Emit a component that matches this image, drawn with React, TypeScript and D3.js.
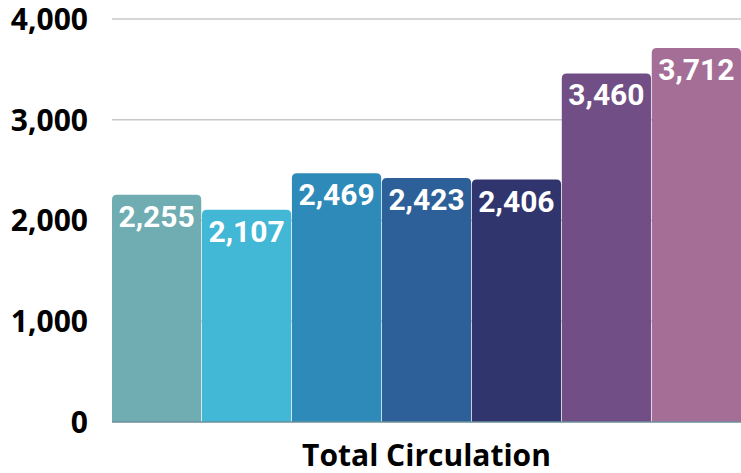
import React from "react";
import * as d3 from "d3";

const categories = ["A", "B", "C", "D", "E", "F", "G"];
const values = [2255, 2107, 2469, 2423, 2406, 3460, 3712];
const colors = ["#6FADB2", "#43B7D6", "#2D8AB9", "#2D5F98", "#30356E", "#714E85", "#A56E96"];
const yTicks = [0, 1000, 2000, 3000, 4000];
const xLabel = "Total Circulation";

const W = 741, H = 473;
const left = 112, right = 741, top = 19, bottom = 422;

function roundedTop(x: number, y: number, w: number, h: number, r: number) {
  const rr = Math.min(r, h, w / 2);
  return `M${x},${y + h}V${y + rr}Q${x},${y} ${x + rr},${y}H${x + w - rr}Q${x + w},${y} ${x + w},${y + rr}V${y + h}Z`;
}

export default function App() {
  const x = d3.scaleBand<string>().domain(categories).range([left, right]).paddingInner(0.008).paddingOuter(0);
  const y = d3.scaleLinear().domain([0, 4000]).range([bottom, top]);
  const fmt = d3.format(",");
  return (
    <svg width={W} height={H} style={{ position: "absolute", left: 0, top: 0, background: "#fff" }}>
      {yTicks.map((t) => (
        <g key={t}>
          {t > 0 && <line x1={left} x2={right} y1={y(t)} y2={y(t)} stroke="#c8c8c8" strokeWidth={1.3} />}
          <text x={88} y={y(t)} dy="0.36em" textAnchor="end" fontFamily="'Open Sans', sans-serif" fontWeight={700} fontSize={30} fill="#000">
            {fmt(t)}
          </text>
        </g>
      ))}
      {categories.map((c, i) => {
        const bx = x(c)!;
        const bw = x.bandwidth();
        const by = y(values[i]);
        return (
          <g key={c}>
            <path d={roundedTop(bx, by, bw, bottom - by, 5)} fill={colors[i]} />
            <text x={bx + bw / 2} y={by + 32} textAnchor="middle" fontFamily="Roboto, sans-serif" fontWeight={700} fontSize={30} fill="#fff">
              {fmt(values[i])}
            </text>
          </g>
        );
      })}
      <line x1={left} x2={right} y1={bottom} y2={bottom} stroke="#6d8f9a" strokeWidth={1.3} />
      <text x={(left + right) / 2} y={466} textAnchor="middle" fontFamily="'Open Sans', sans-serif" fontWeight={700} fontSize={30} fill="#000">
        {xLabel}
      </text>
    </svg>
  );
}
